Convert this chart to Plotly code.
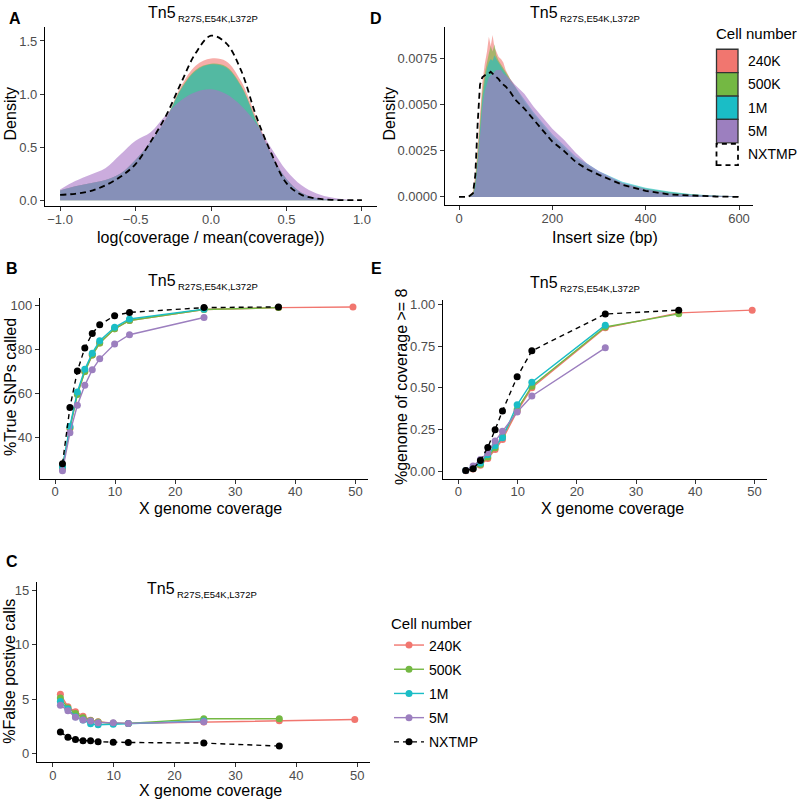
import plotly.graph_objects as go

W, H = 797, 801

# ---------------- data ----------------
series_names = ["240K", "500K", "1M", "5M", "NXTMP"]
line_colors = ["#F1766F", "#74B843", "#1ABDC6", "#9C7FBF", "#000000"]
fill_colors = ["rgba(241,118,111,0.6)", "rgba(116,184,67,0.6)",
               "rgba(26,189,198,0.6)", "rgba(168,116,198,0.6)"]

# Panel A: density of log(coverage / mean(coverage))
logcov_x = [-1.0, -0.9, -0.8, -0.7, -0.6, -0.5, -0.4, -0.3, -0.2, -0.1, 0.0,
            0.1, 0.2, 0.3, 0.4, 0.5, 0.6, 0.7, 0.8, 0.9, 1.0]
logcov_240K = [0.09, 0.13, 0.16, 0.19, 0.25, 0.38, 0.55, 0.76, 1.07, 1.27, 1.335,
               1.31, 1.12, 0.78, 0.44, 0.20, 0.07, 0.02, 0.006, 0.002, 0.0]
logcov_500K = [0.09, 0.13, 0.16, 0.19, 0.25, 0.38, 0.55, 0.76, 1.05, 1.23, 1.285,
               1.26, 1.08, 0.75, 0.43, 0.20, 0.07, 0.02, 0.006, 0.002, 0.0]
logcov_1M = [0.09, 0.13, 0.16, 0.19, 0.25, 0.38, 0.55, 0.76, 1.04, 1.22, 1.28,
             1.25, 1.07, 0.745, 0.43, 0.20, 0.07, 0.02, 0.006, 0.002, 0.0]
logcov_5M = [0.10, 0.18, 0.24, 0.30, 0.43, 0.56, 0.64, 0.80, 0.94, 1.02, 1.045,
             1.00, 0.89, 0.72, 0.49, 0.28, 0.14, 0.063, 0.025, 0.007, 0.0]
logcov_NXTMP = [0.05, 0.06, 0.085, 0.14, 0.22, 0.34, 0.55, 0.79, 1.10, 1.39, 1.55,
                1.48, 1.22, 0.79, 0.44, 0.16, 0.05, 0.015, 0.003, 0.0, 0.0]

# Panel D: insert size density
insert_bp = [0, 20, 30, 35, 40, 45, 50, 55, 60, 64, 68, 72, 76, 80, 85, 90, 95, 100,
             110, 120, 140, 160, 180, 200, 225, 250, 275, 300, 350, 400, 450, 500, 550, 600]
insert_240K = [0, 0, 0.0003, 0.0012, 0.0028, 0.0048, 0.0062, 0.0072, 0.0079, 0.0087, 0.0082,
               0.0088, 0.0081, 0.0079, 0.0076, 0.0075, 0.0073, 0.0069, 0.0064, 0.0060, 0.0051,
               0.0044, 0.0038, 0.0032, 0.0026, 0.0020, 0.0016, 0.0012, 0.00072, 0.00042,
               0.00024, 0.00012, 0.00006, 0.00002]
insert_500K = [0, 0, 0.0002, 0.0009, 0.0024, 0.0042, 0.0057, 0.0067, 0.0074, 0.0078, 0.0082,
               0.0079, 0.0083, 0.0077, 0.0074, 0.0072, 0.0070, 0.0068, 0.0064, 0.0060, 0.0052,
               0.0045, 0.0039, 0.0033, 0.0027, 0.0021, 0.0017, 0.0013, 0.00076, 0.00045,
               0.00026, 0.00013, 0.00006, 0.00002]
insert_1M = [0, 0, 0.0001, 0.0007, 0.0020, 0.0038, 0.0053, 0.0063, 0.0070, 0.0073, 0.0075,
             0.0074, 0.0077, 0.0075, 0.0073, 0.0071, 0.0069, 0.0067, 0.0063, 0.0060, 0.0053,
             0.0046, 0.0040, 0.0034, 0.0028, 0.0022, 0.0018, 0.0014, 0.00082, 0.00050,
             0.00029, 0.00015, 0.00007, 0.00002]
insert_5M = [0, 0, 0.0001, 0.0005, 0.0017, 0.0034, 0.0048, 0.0057, 0.0062, 0.0065, 0.0066,
             0.0067, 0.0068, 0.0069, 0.0069, 0.0069, 0.0067, 0.0066, 0.0064, 0.0061, 0.0056,
             0.0049, 0.0043, 0.0037, 0.0031, 0.0024, 0.0018, 0.0014, 0.00075, 0.00042,
             0.00020, 0.00010, 0.00006, 0.00002]
insert_NXTMP = [0, 0, 0.0002, 0.0012, 0.0040, 0.0061, 0.0065, 0.0066, 0.0067, 0.0067, 0.0068,
                0.0067, 0.0066, 0.0065, 0.0064, 0.0062, 0.0061, 0.0060, 0.0057, 0.0053, 0.0048,
                0.0042, 0.0036, 0.0030, 0.0025, 0.0019, 0.0015, 0.0012, 0.00066, 0.00033,
                0.00013, 0.00006, 0.00002, 0.0]

# Panels B, C, E: x genome coverage
coverage = [1.24, 2.48, 3.72, 4.96, 6.2, 7.44, 9.92, 12.4, 24.8, 37.2, 49.6]

snp_240K = [26.0, 44.0, 60.0, 70.0, 77.5, 83.0, 89.5, 93.3, 98.3, 99.2, 99.5]
snp_500K = [26.0, 44.3, 59.5, 70.0, 77.5, 83.0, 89.5, 93.3, 98.3, 99.2]
snp_1M = [26.5, 45.0, 60.7, 71.0, 78.4, 84.1, 90.2, 94.0, 98.5]
snp_5M = [24.7, 42.1, 54.6, 63.7, 70.8, 75.8, 82.6, 86.8, 94.7]
snp_NXTMP = [27.9, 53.6, 70.2, 80.8, 87.4, 91.4, 95.5, 97.0, 99.2, 99.5]

fp_240K = [5.46, 4.3, 3.85, 3.44, 3.08, 2.93, 2.8, 2.78, 2.9, 3.02, 3.14]
fp_500K = [5.1, 4.2, 3.7, 3.3, 3.05, 2.9, 2.8, 2.78, 3.2, 3.2]
fp_1M = [4.8, 4.1, 3.4, 3.1, 2.75, 2.65, 2.7, 2.78, 3.0]
fp_5M = [4.45, 3.95, 3.35, 3.1, 3.0, 2.85, 2.85, 2.78, 2.93]
fp_NXTMP = [1.98, 1.52, 1.31, 1.19, 1.19, 1.10, 1.06, 1.03, 0.97, 0.70]

cov8_240K = [0.002, 0.012, 0.035, 0.075, 0.13, 0.19, 0.36, 0.50, 0.86, 0.95, 0.966]
cov8_500K = [0.003, 0.015, 0.04, 0.085, 0.14, 0.21, 0.37, 0.51, 0.865, 0.944]
cov8_1M = [0.003, 0.02, 0.049, 0.098, 0.152, 0.20, 0.398, 0.534, 0.876]
cov8_5M = [0.004, 0.03, 0.07, 0.11, 0.18, 0.24, 0.355, 0.451, 0.74]
cov8_NXTMP = [0.004, 0.014, 0.063, 0.142, 0.249, 0.361, 0.566, 0.722, 0.943, 0.966]

# ---------------- helpers ----------------
FONT = "Liberation Sans, Arial, Helvetica, sans-serif"


def px(x):
    return x / W


def py(y):
    return 1 - y / H


fig = go.Figure()


def add_density(x, ys, xa, ya, shape):
    for name, y, fc in zip(series_names[:4], ys[:4], fill_colors):
        fig.add_trace(go.Scatter(x=x, y=y, mode="lines", name=name,
                                 line=dict(width=0, shape=shape, color=fc),
                                 fill="tozeroy", fillcolor=fc,
                                 xaxis=xa, yaxis=ya, showlegend=False, hoverinfo="skip"))
    fig.add_trace(go.Scatter(x=x, y=ys[4], mode="lines", name=series_names[4],
                             line=dict(color="black", width=1.8, dash="6px,4px", shape=shape),
                             xaxis=xa, yaxis=ya, showlegend=False, hoverinfo="skip"))


def add_lines(ys, xa, ya, legend):
    for name, y, col in zip(series_names, ys, line_colors):
        dash = "5px,4px" if name == "NXTMP" else "solid"
        fig.add_trace(go.Scatter(x=coverage[:len(y)], y=y, mode="lines+markers", name=name,
                                 line=dict(color=col, width=1.4, dash=dash),
                                 marker=dict(color=col, size=7),
                                 xaxis=xa, yaxis=ya, showlegend=legend, legendgroup=name))


add_density(logcov_x, [logcov_240K, logcov_500K, logcov_1M, logcov_5M, logcov_NXTMP], "x", "y", "spline")
add_density(insert_bp, [insert_240K, insert_500K, insert_1M, insert_5M, insert_NXTMP], "x2", "y2", "linear")
add_lines([snp_240K, snp_500K, snp_1M, snp_5M, snp_NXTMP], "x3", "y3", False)
add_lines([cov8_240K, cov8_500K, cov8_1M, cov8_5M, cov8_NXTMP], "x4", "y4", False)
add_lines([fp_240K, fp_500K, fp_1M, fp_5M, fp_NXTMP], "x5", "y5", True)

axis_style = dict(showline=True, linecolor="black", linewidth=1.2, ticks="outside",
                  ticklen=4, tickwidth=1, tickcolor="#333333",
                  tickfont=dict(size=13, color="#4D4D4D", family=FONT),
                  showgrid=False, zeroline=False)
xstyle = dict(axis_style, ticklabelstandoff=-3)

fig.update_layout(
    width=W, height=H, margin=dict(l=0, r=0, t=0, b=0),
    paper_bgcolor="white", plot_bgcolor="white",
    font=dict(family=FONT, color="black"),
    xaxis=dict(domain=[px(45), px(377)], range=[-1.1, 1.1], anchor="y",
               tickvals=[-1, -0.5, 0, 0.5, 1], tickformat=".1f", **xstyle),
    yaxis=dict(domain=[py(205), py(25)], range=[-0.055, 1.633], anchor="x",
               tickvals=[0, 0.5, 1.0, 1.5], tickformat=".1f", **axis_style),
    xaxis2=dict(domain=[px(445), px(753)], range=[-30, 630], anchor="y2",
                tickvals=[0, 200, 400, 600], **xstyle),
    yaxis2=dict(domain=[py(204), py(25)], range=[-0.00044, 0.00924], anchor="x2",
                tickvals=[0, 0.0025, 0.005, 0.0075], tickformat=".4f", **axis_style),
    xaxis3=dict(domain=[px(40), px(368)], range=[-2.5, 52.1], anchor="y3",
                tickvals=[0, 10, 20, 30, 40, 50], **xstyle),
    yaxis3=dict(domain=[py(479), py(297)], range=[21.1, 103.8], anchor="x3",
                tickvals=[40, 60, 80, 100], **axis_style),
    xaxis4=dict(domain=[px(443), px(767)], range=[-2.6, 52.1], anchor="y4",
                tickvals=[0, 10, 20, 30, 40, 50], **xstyle),
    yaxis4=dict(domain=[py(479), py(299)], range=[-0.045, 1.03], anchor="x4",
                tickvals=[0, 0.25, 0.5, 0.75, 1.0], tickformat=".2f", **axis_style),
    xaxis5=dict(domain=[px(37), px(370)], range=[-2.6, 52.1], anchor="y5",
                tickvals=[0, 10, 20, 30, 40, 50], **xstyle),
    yaxis5=dict(domain=[py(764), py(583)], range=[-0.78, 15.75], anchor="x5",
                tickvals=[0, 5, 10, 15], **axis_style),
    legend=dict(x=px(389), y=py(611), xanchor="left", yanchor="top",
                title=dict(text="Cell number", font=dict(size=15, family=FONT)),
                font=dict(size=14, family=FONT), itemwidth=30, tracegroupgap=3,
                bgcolor="rgba(0,0,0,0)"),
)

ann = []
# titles: "Tn5" with a subscript drawn as two adjacent texts
for tx, ty in [(177, 11), (559, 11), (177, 280), (559, 282), (176, 589)]:
    ann.append(dict(x=px(tx), y=py(ty), text="Tn5", xanchor="right", borderpad=0,
                    font=dict(size=16, family=FONT)))
    ann.append(dict(x=px(tx), y=py(ty + 6), text="R27S,E54K,L372P", xanchor="left", borderpad=0,
                    font=dict(size=9.5, family=FONT)))

for t, cx, cy in [("A", 15, 17), ("D", 376, 17), ("B", 12, 268), ("E", 376, 268), ("C", 12, 562)]:
    ann.append(dict(x=px(cx), y=py(cy), text="<b>%s</b>" % t, font=dict(size=16, family=FONT)))

for t, cx, cy in [("log(coverage / mean(coverage))", 211, 237),
                  ("Insert size (bp)", 605, 237),
                  ("X genome coverage", 210, 509),
                  ("X genome coverage", 612, 509),
                  ("X genome coverage", 210, 792)]:
    ann.append(dict(x=px(cx), y=py(cy), text=t, borderpad=0, font=dict(size=16, family=FONT)))

for t, cx, cy in [("Density", 10, 113), ("Density", 389, 113),
                  ("%True SNPs called", 10, 387), ("%genome of coverage >= 8", 401, 387),
                  ("%False postive calls", 10, 673)]:
    ann.append(dict(x=px(cx), y=py(cy), text=t, textangle=-90, borderpad=0,
                    font=dict(size=16, family=FONT)))

# Panel D legend (fill keys)
ann.append(dict(x=px(714), y=py(32), text="Cell number", xanchor="left",
                font=dict(size=15, family=FONT)))
shapes = []
box_top = 47.5
box_h = 23.5
for i, name in enumerate(series_names):
    y0 = box_top + i * box_h
    if name == "NXTMP":
        shapes.append(dict(type="rect", xref="paper", yref="paper",
                           x0=px(716.5), x1=px(738), y0=py(y0 + box_h - 1), y1=py(y0 + 1),
                           fillcolor="white", line=dict(color="black", width=1.8, dash="5px,4px")))
    else:
        shapes.append(dict(type="rect", xref="paper", yref="paper",
                           x0=px(716.5), x1=px(738), y0=py(y0 + box_h), y1=py(y0),
                           fillcolor=line_colors[i], line=dict(color="#333333", width=1.3)))
    ann.append(dict(x=px(746), y=py(y0 + box_h / 2), text=name, xanchor="left",
                    font=dict(size=14, family=FONT)))

for a in ann:
    a.setdefault("xref", "paper")
    a.setdefault("yref", "paper")
    a.setdefault("showarrow", False)
    a.setdefault("xanchor", "center")
    a.setdefault("yanchor", "middle")

fig.update_layout(annotations=ann, shapes=shapes)
fig.write_html("out.html", config={"displayModeBar": False},
               post_script="document.body.style.margin='0px';")
